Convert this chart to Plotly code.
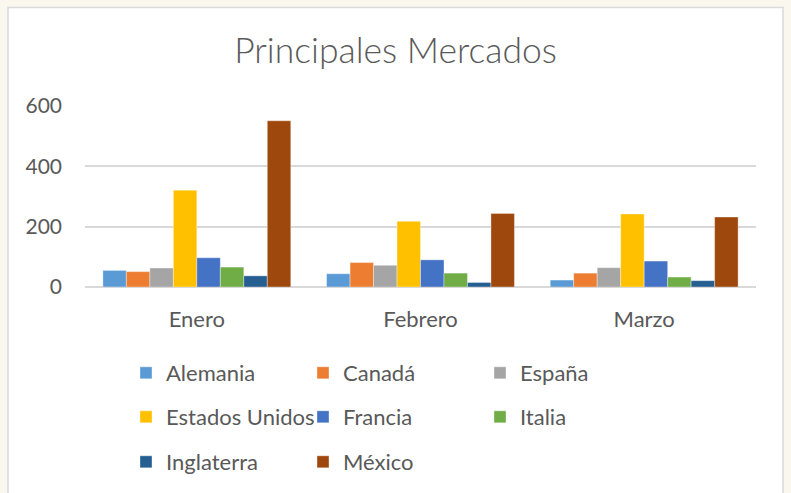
import plotly.graph_objects as go

meses = ["Enero", "Febrero", "Marzo"]
paises = ["Alemania", "Canadá", "España", "Estados Unidos", "Francia", "Italia", "Inglaterra", "México"]
alemania = [55, 44, 23]
canada = [51, 81, 46]
espana = [63, 72, 64]
estados_unidos = [321, 218, 242]
francia = [97, 90, 86]
italia = [66, 46, 33]
inglaterra = [37, 15, 21]
mexico = [551, 244, 232]
valores = [alemania, canada, espana, estados_unidos, francia, italia, inglaterra, mexico]
colores = ["#5B9BD5", "#ED7D31", "#A5A5A5", "#FFC000", "#4472C4", "#70AD47", "#255E91", "#9E480E"]
y_ticks = [0, 200, 400, 600]

W, H = 791, 493
L, R, T, B = 85, 756, 106, 288
pw, ph = R - L, B - T


def px(x):
    return (x - L) / pw


def py(y):
    return (B - y) / ph


legend_ids = ["legend", "legend", "legend", "legend2", "legend2", "legend2", "legend3", "legend3"]

fig = go.Figure()
for p, v, c, lg in zip(paises, valores, colores, legend_ids):
    fig.add_trace(go.Bar(name=p, x=meses, y=v, legend=lg,
                         marker=dict(color=c, line=dict(color="rgba(255,255,255,0.6)", width=0.6))))

fig.add_shape(type="rect", xref="paper", yref="paper", layer="below",
              x0=px(8), x1=px(783), y0=py(520), y1=py(7),
              fillcolor="white", line=dict(color="#d9d9d9", width=1.5))

leg_common = dict(orientation="h", xanchor="left", yanchor="middle",
                  entrywidth=132, entrywidthmode="pixels", traceorder="normal",
                  font=dict(family="Lato", size=22, color="#595959"), itemwidth=30,
                  bgcolor="rgba(0,0,0,0)")

fig.update_layout(
    width=W, height=H,
    margin=dict(l=L, r=W - R, t=T, b=H - B),
    paper_bgcolor="#faf7ef",
    plot_bgcolor="rgba(0,0,0,0)",
    barmode="group", bargap=0.16, bargroupgap=0,
    font=dict(family="Lato", color="#595959", size=21),
    title=dict(text="Principales Mercados", x=0.5, xref="container", xanchor="center",
               y=1 - 51 / H, yanchor="middle",
               font=dict(family="Lato", size=35.5, color="#595959", weight=300)),
    xaxis=dict(showgrid=False, showline=False, ticks="", ticklabelstandoff=17,
               tickfont=dict(size=22, color="#595959")),
    yaxis=dict(range=[0, 600], tickvals=y_ticks, showgrid=True, gridcolor="#d9d9d9", gridwidth=1.5,
               zeroline=True, zerolinecolor="#d9d9d9", zerolinewidth=1.5,
               tickfont=dict(size=21, color="#595959"), ticks="", ticklabelstandoff=22),
    legend=dict(x=px(126), y=py(373), **leg_common),
    legend2=dict(x=px(126), y=py(417), **leg_common),
    legend3=dict(x=px(126), y=py(462), **leg_common),
    showlegend=True,
)
fig.write_html("out.html", config={"displayModeBar": False},
               post_script="document.body.style.margin='0';")
